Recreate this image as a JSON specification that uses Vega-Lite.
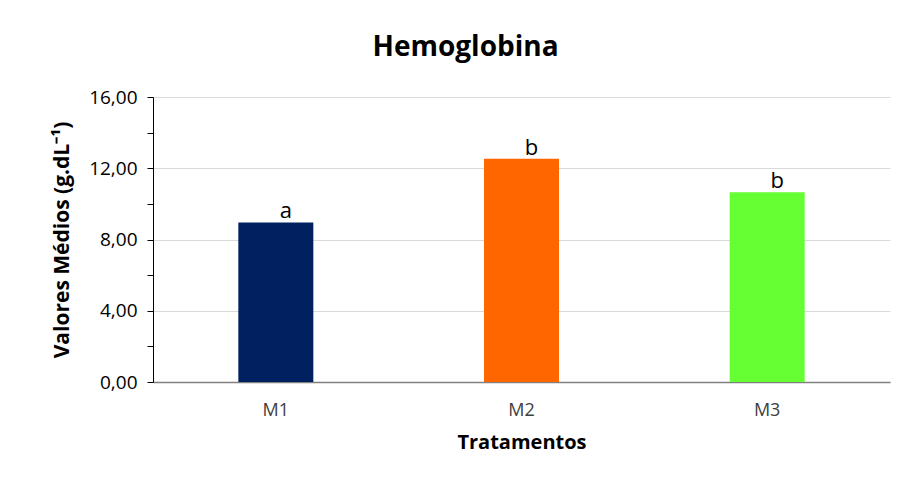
{
  "$schema": "https://vega.github.io/schema/vega-lite/v6.json",
  "autosize": "none",
  "width": 737,
  "height": 285,
  "padding": {"left": 153, "top": 97, "right": 19, "bottom": 108},
  "background": "white",
  "title": {
    "text": "Hemoglobina",
    "font": "Open Sans",
    "fontSize": 28,
    "fontWeight": "bold",
    "color": "#000000",
    "anchor": "middle",
    "dx": -56,
    "offset": 26
  },
  "data": {
    "values": [
      {"Tratamento": "M1", "Valor": 8.96, "Letra": "a", "Cor": "#002060"},
      {"Tratamento": "M2", "Valor": 12.54, "Letra": "b", "Cor": "#FF6600"},
      {"Tratamento": "M3", "Valor": 10.65, "Letra": "b", "Cor": "#66FF33"}
    ]
  },
  "encoding": {
    "x": {
      "field": "Tratamento",
      "type": "nominal",
      "sort": null,
      "title": "Tratamentos",
      "axis": {
        "labelAngle": 0,
        "ticks": false,
        "labelFont": "Open Sans",
        "labelFontSize": 18,
        "labelColor": "#404040",
        "labelPadding": 19,
        "titleFont": "Open Sans",
        "titleFontSize": 20,
        "titleFontWeight": "bold",
        "titleColor": "#000000",
        "titlePadding": 13,
        "domainColor": "#808080",
        "domainWidth": 1.5
      }
    },
    "y": {
      "field": "Valor",
      "type": "quantitative",
      "scale": {"domain": [0, 16], "nice": false},
      "title": "Valores Médios (g.dL⁻¹)",
      "axis": {
        "values": [0, 2, 4, 6, 8, 10, 12, 14, 16],
        "labelExpr": "datum.value % 4 === 0 ? replace(format(datum.value, '.2f'), '.', ',') : ''",
        "gridColor": "#d9d9d9",
        "gridOpacity": {"condition": {"test": "datum.value % 4 === 0", "value": 1}, "value": 0},
        "tickColor": "#000000",
        "tickSize": 6,
        "domainColor": "#000000",
        "labelFont": "Open Sans",
        "labelFontSize": 19,
        "labelColor": "#000000",
        "labelPadding": 10,
        "titleFont": "Open Sans",
        "titleFontSize": 21,
        "titleFontWeight": "bold",
        "titleColor": "#000000",
        "titlePadding": 16
      }
    }
  },
  "layer": [
    {
      "mark": {"type": "bar", "size": 75},
      "encoding": {
        "color": {"field": "Cor", "type": "nominal", "scale": null, "legend": null}
      }
    },
    {
      "mark": {"type": "text", "baseline": "bottom", "dy": 1, "dx": 10, "font": "Open Sans", "fontSize": 22, "color": "#000000"},
      "encoding": {
        "text": {"field": "Letra", "type": "nominal"}
      }
    }
  ],
  "config": {
    "view": {"stroke": null}
  }
}
